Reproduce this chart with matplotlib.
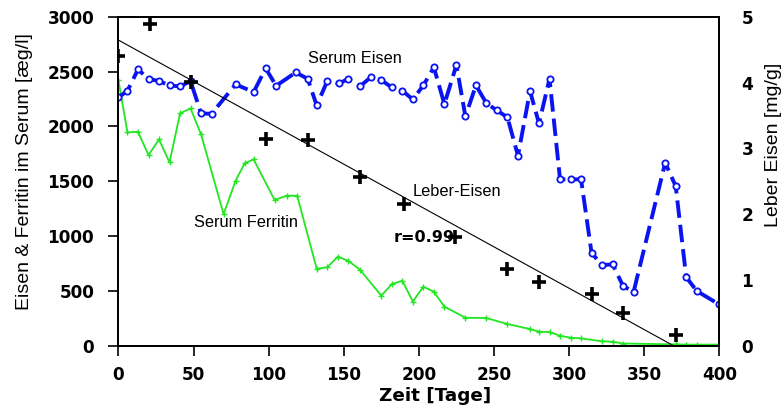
import numpy as np
import matplotlib
matplotlib.use('Agg')
import matplotlib.pyplot as plt

plt.rcParams['font.family'] = ['Liberation Sans', 'DejaVu Sans']

# Serum Eisen (left axis)
eisen_tage = [0, 6, 13, 20, 27, 34, 41, 48, 55, 62, 78, 90, 98, 105, 118, 126, 132,
              139, 147, 153, 161, 168, 175, 182, 189, 196, 203, 210, 217, 225, 231,
              238, 245, 252, 259, 266, 274, 280, 287, 294, 301, 308, 315, 322, 329,
              336, 343, 364, 371, 378, 385, 400]
eisen_wert = [2264, 2325, 2519, 2434, 2413, 2374, 2364, 2413, 2118, 2115, 2383, 2313,
              2529, 2370, 2492, 2434, 2191, 2413, 2392, 2434, 2367, 2449, 2422, 2355,
              2325, 2246, 2374, 2538, 2203, 2559, 2091, 2374, 2210, 2146, 2082, 1732,
              2322, 2027, 2434, 1517, 1517, 1517, 845, 735, 742, 544, 492, 1668, 1456,
              626, 499, 376]

# Serum Ferritin (left axis)
ferritin_tage = [0, 6, 13, 20, 27, 34, 41, 48, 55, 70, 78, 84, 90, 104, 112, 119, 132,
                 139, 146, 153, 161, 175, 182, 189, 196, 203, 210, 217, 231, 245, 259,
                 274, 280, 287, 294, 301, 308, 322, 329, 336, 371, 378, 385, 400]
ferritin_wert = [2419, 1945, 1951, 1738, 1881, 1672, 2118, 2164, 1927, 1200, 1505, 1663,
                 1699, 1328, 1369, 1367, 702, 715, 811, 775, 690, 456, 562, 592, 403, 538,
                 492, 356, 255, 252, 198, 152, 128, 125, 91, 73, 67, 40, 37, 20, 12, 10,
                 10, 10]

# Leber-Eisen (right axis)
leber_tage = [0, 21, 48, 98, 126, 161, 190, 224, 259, 280, 315, 336, 371]
leber_wert = [4.40, 4.89, 4.01, 3.14, 3.13, 2.57, 2.15, 1.65, 1.17, 0.97, 0.79, 0.49, 0.17]

# regression line of Leber-Eisen
fit_intercept = 4.645
fit_slope = -0.01257

bold = dict(family='DejaVu Sans', fontweight='bold')

fig = plt.figure(figsize=(7.84, 4.12), dpi=100)
ax = fig.add_axes([0.1511, 0.1609, 0.7663, 0.7985])

ax.plot(ferritin_tage, ferritin_wert, color='#22e622', lw=1.3, marker='+',
        ms=5, mew=1.0, zorder=2)
ax.plot(eisen_tage, eisen_wert, color='#0a14f0', lw=2.8, dashes=(4.5, 1.8),
        marker='o', ms=4.5, mfc='white', mec='#0a14f0', mew=1.3, zorder=3)

ax.set_xlim(0, 400)
ax.set_ylim(0, 3000)
ax.set_xticks(np.arange(0, 401, 50))
ax.set_yticks(np.arange(0, 3001, 500))
ax.tick_params(axis='both', direction='out', length=7, width=1.2, labelsize=12.2)
ax.tick_params(axis='y', pad=10.5, right=False)
ax.tick_params(axis='x', pad=7.5, top=False)
for lab in ax.get_xticklabels() + ax.get_yticklabels():
    lab.set_fontfamily('DejaVu Sans')
    lab.set_fontweight('bold')
for s in ax.spines.values():
    s.set_linewidth(1.3)

ax.set_xlabel('Zeit [Tage]', fontsize=13.2, **bold)
ax.xaxis.set_label_coords(0.527, -0.126)
ax.set_ylabel('Eisen & Ferritin im Serum [æg/l]', fontsize=14)
ax.yaxis.set_label_coords(-0.142, 0.528)

ax.text(157.5, 2620, 'Serum Eisen', fontsize=11.8, ha='center', va='center')
ax.text(225.4, 1410, 'Leber-Eisen', fontsize=11.8, ha='center', va='center')
ax.text(84.9, 1119, 'Serum Ferritin', fontsize=11.8, ha='center', va='center')
ax.text(183.4, 985, 'r=0.99', fontsize=11.5, ha='left', va='center', **bold)

ax2 = ax.twinx()
ax2.set_ylim(0, 5)
ax2.set_yticks(np.arange(0, 6, 1))
ax2.tick_params(axis='y', length=0, pad=16, labelsize=12.2)
for lab in ax2.get_yticklabels():
    lab.set_fontfamily('DejaVu Sans')
    lab.set_fontweight('bold')
ax2.set_ylabel('Leber Eisen [mg/g]', fontsize=14)
ax2.yaxis.set_label_coords(1.076, 0.61)
for s in ax2.spines.values():
    s.set_linewidth(1.3)

x_end = -fit_intercept / fit_slope
fx = np.array([0, x_end])
ax2.plot(fx, fit_intercept + fit_slope * fx, color='black', lw=0.8, zorder=2)
ax2.plot(leber_tage, leber_wert, linestyle='none', marker='+', ms=10, mew=2.6,
         color='black', zorder=4)

fig.savefig('out.png', dpi=100)
